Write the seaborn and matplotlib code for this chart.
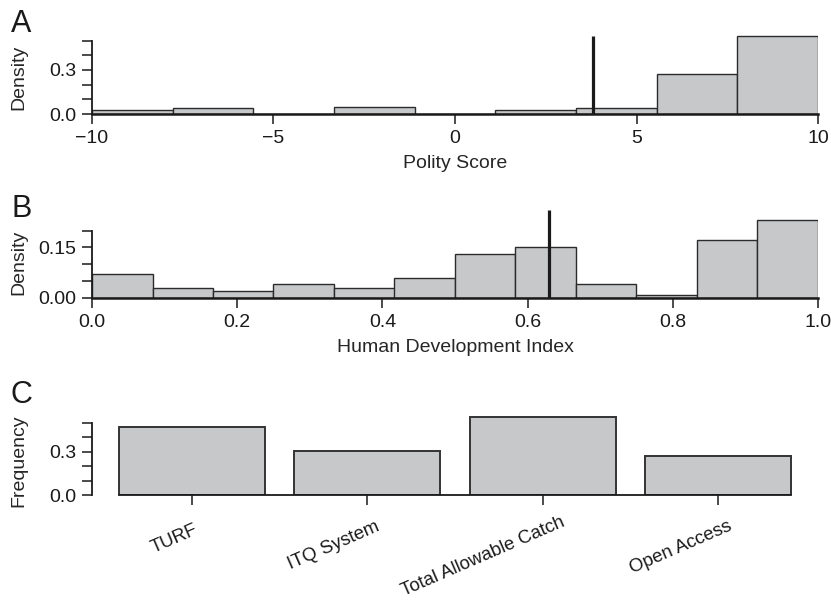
import numpy as np
import pandas as pd
import matplotlib
matplotlib.use("Agg")
import matplotlib.pyplot as plt
import seaborn as sns

# ---- data ----
polity_density = [0.03, 0.04, 0.0, 0.05, 0.0, 0.03, 0.04, 0.27, 0.53]
polity_range = (-10, 10)
polity_mean = 3.8
polity_line_top = 0.53

hdi_density = [0.07, 0.03, 0.02, 0.04, 0.03, 0.06, 0.131, 0.152, 0.04, 0.009, 0.172, 0.232]
hdi_range = (0.0, 1.0)
hdi_mean = 0.63
hdi_line_top = 0.262

categories = ["TURF", "ITQ System", "Total Allowable Catch", "Open Access"]
frequency = [0.473, 0.307, 0.542, 0.27]

# ---- style ----
sns.set_theme(style="ticks")
plt.rcParams["font.family"] = ["Liberation Sans", "DejaVu Sans"]
FS = 14
FS_CAT = 13.4
FILL = "#c7c8ca"
EDGE = "#2b2b2b"
AX = "#1a1a1a"

fig = plt.figure(figsize=(8.31, 6.01), dpi=100)
W, H = 831, 601


def add_axes(left_px, right_px, bottom_px, top_px):
    return fig.add_axes([left_px / W, (H - bottom_px) / H,
                         (right_px - left_px) / W, (bottom_px - top_px) / H])


def style_axes(ax):
    for s in ["top", "right"]:
        ax.spines[s].set_visible(False)
    for s in ["left", "bottom"]:
        ax.spines[s].set_linewidth(1.3)
        ax.spines[s].set_color(AX)
    ax.spines["bottom"].set_linewidth(1.8)
    ax.tick_params(axis="both", direction="out", length=7.5, width=1.1,
                   color=AX, labelsize=FS, labelcolor="#1a1a1a", pad=4)
    ax.grid(False)
    ax.set_facecolor("white")


def hist_panel(ax, dens, rng, mean, line_top):
    n = len(dens)
    edges = np.linspace(rng[0], rng[1], n + 1)
    centers = (edges[:-1] + edges[1:]) / 2
    df = pd.DataFrame({"x": centers, "w": dens})
    sns.histplot(data=df, x="x", weights="w", bins=list(edges), stat="count",
                 color=FILL, edgecolor=EDGE, linewidth=1.0, alpha=1, ax=ax)
    ax.plot([mean, mean], [0, line_top], color=AX, lw=2.3, solid_capstyle="butt",
            zorder=5)


# ---- Panel A ----
axA = add_axes(92, 818, 114, 114 - 0.55 * 146.7)
hist_panel(axA, polity_density, polity_range, polity_mean, polity_line_top)
style_axes(axA)
axA.set_xlim(-10, 10)
axA.set_ylim(0, 0.55)
axA.set_xticks([-10, -5, 0, 5, 10])
axA.set_xticklabels(["\u221210", "\u22125", "0", "5", "10"])
axA.set_yticks([0, 0.1, 0.2, 0.3, 0.4, 0.5])
axA.set_yticklabels(["0.0", "", "", "0.3", "", ""])
axA.spines["left"].set_bounds(0, 0.5)
axA.spines["bottom"].set_bounds(-10, 10)
axA.set_xlabel("Polity Score", fontsize=FS, labelpad=6)
axA.set_ylabel("Density", fontsize=FS)
axA.yaxis.set_label_coords(-0.0895, 0.458)

# ---- Panel B ----
axB = add_axes(92, 818, 297.7, 297.7 - 0.27 * 336)
hist_panel(axB, hdi_density, hdi_range, hdi_mean, hdi_line_top)
style_axes(axB)
axB.set_xlim(0, 1)
axB.set_ylim(0, 0.27)
axB.set_xticks([0, 0.2, 0.4, 0.6, 0.8, 1.0])
axB.set_xticklabels(["0.0", "0.2", "0.4", "0.6", "0.8", "1.0"])
axB.set_yticks([0, 0.05, 0.10, 0.15, 0.20])
axB.set_yticklabels(["0.00", "", "", "0.15", ""])
axB.spines["left"].set_bounds(0, 0.2)
axB.spines["bottom"].set_bounds(0, 1)
axB.set_xlabel("Human Development Index", fontsize=FS, labelpad=6)
axB.set_ylabel("Density", fontsize=FS)
axB.yaxis.set_label_coords(-0.0895, 0.388)

# ---- Panel C ----
axC = add_axes(92, 818, 495, 495 - 0.55 * 144.4)
dfc = pd.DataFrame({"cat": categories, "freq": frequency})
sns.barplot(data=dfc, x="cat", y="freq", color=FILL, edgecolor="#333333",
            linewidth=1.4, width=0.833, saturation=1, ax=axC)
style_axes(axC)
axC.set_xlim(-0.570, 3.571)
axC.set_ylim(0, 0.55)
axC.set_yticks([0, 0.1, 0.2, 0.3, 0.4, 0.5])
axC.set_yticklabels(["0.0", "", "", "0.3", "", ""])
axC.spines["left"].set_bounds(0, 0.5)
axC.spines["bottom"].set_bounds(-0.4165, 3.4165)
axC.spines["bottom"].set_linewidth(1.3)
axC.set_xticks(range(len(categories)))
axC.set_xticklabels([""] * len(categories))
axC.set_xlabel("")
axC.set_ylabel("Frequency", fontsize=FS)
axC.yaxis.set_label_coords(-0.0895, 0.428)

# rotated category labels, anchored ~85% along their baseline below each tick
theta = 23.5
renderer = fig.canvas.get_renderer()
for i, lab in enumerate(categories):
    tmp = fig.text(0, 0, lab, fontsize=FS_CAT)
    w = tmp.get_window_extent(renderer).width
    tmp.remove()
    frac = 0.145 * w
    dx = frac * np.cos(np.radians(theta))
    dy = -41 + frac * np.sin(np.radians(theta))
    axC.annotate(lab, xy=(i, 0), xycoords="data", xytext=(dx, dy),
                 textcoords="offset pixels", rotation=theta,
                 rotation_mode="anchor", ha="right", va="baseline",
                 fontsize=FS_CAT, color="#1a1a1a", annotation_clip=False)

# ---- panel letters ----
for letter, base_px in [("A", 32.3), ("B", 216.7), ("C", 403.3)]:
    fig.text(11 / W, (H - base_px) / H, letter, fontsize=22, ha="left",
             va="baseline", color="#1a1a1a")

fig.savefig("out.png", dpi=100, facecolor="white")
